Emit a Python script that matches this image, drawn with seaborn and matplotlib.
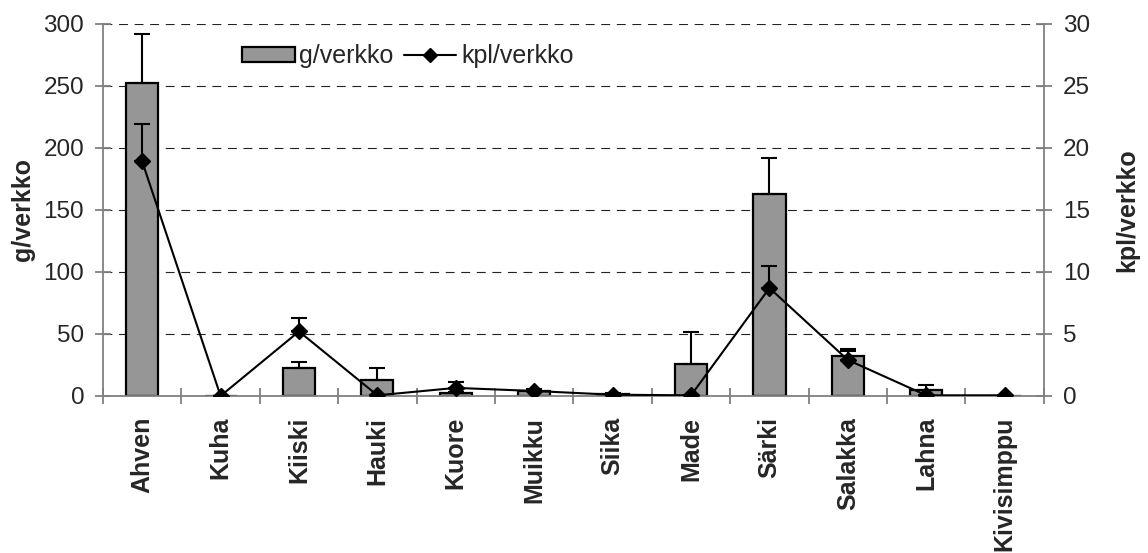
"""Saaliit verkkoa kohden: biomassa ja lukumäärä lajeittain."""

import matplotlib
matplotlib.use("Agg")
import matplotlib.pyplot as plt
import numpy as np
import pandas as pd
import seaborn as sns
from matplotlib.lines import Line2D
from matplotlib.patches import Patch

species = ["Ahven", "Kuha", "Kiiski", "Hauki", "Kuore", "Muikku",
           "Siika", "Made", "Särki", "Salakka", "Lahna", "Kivisimppu"]
g_per_net = [252, 0, 22.5, 13, 2.5, 4, 1.2, 26, 163, 32, 5, 0]
g_err = [40, 0, 5, 9.5, 0.8, 1.0, 0.5, 25.5, 29, 6, 3.5, 0]
kpl_per_net = [18.9, 0, 5.2, 0.05, 0.65, 0.4, 0.1, 0.05, 8.7, 2.9, 0.05, 0.05]
kpl_err = [3.0, 0, 1.1, 0, 0.5, 0.2, 0.1, 0, 1.8, 0.7, 0, 0]

GREY = "#969696"
AXIS = "#808080"


def main() -> None:
    sns.set_theme(style="white")
    plt.rcParams["font.family"] = ["Liberation Sans", "DejaVu Sans"]

    df = pd.DataFrame({"laji": species, "g": g_per_net, "kpl": kpl_per_net})
    x = np.arange(len(species))

    fig = plt.figure(figsize=(11.48, 5.53), dpi=100)
    ax = fig.add_axes([0.0897, 0.284, 0.8196, 0.673])

    sns.barplot(data=df, x="laji", y="g", color=GREY, width=0.41,
                edgecolor="black", linewidth=1.6, saturation=1, ax=ax, zorder=2)
    ax.errorbar(x, g_per_net, yerr=[np.zeros(len(x)), g_err], fmt="none",
                ecolor="black", elinewidth=1.5, capsize=5.8, capthick=1.5, zorder=3)

    ax.set_ylim(0, 300)
    ax.set_yticks(range(0, 301, 50))
    ax.set_xlim(-0.5, len(species) - 0.5)
    ax.yaxis.grid(True, linestyle=(0, (8, 6)), color="#222222", linewidth=0.8)
    ax.set_axisbelow(True)
    ax.set_xlabel("")
    ax.set_ylabel("g/verkko", fontsize=18, fontweight="bold", labelpad=6)

    ax2 = ax.twinx()
    ax2.errorbar(x, kpl_per_net, yerr=[np.zeros(len(x)), kpl_err], fmt="-D",
                 color="black", linewidth=1.5, markersize=8.5, elinewidth=1.5,
                 capsize=5.8, capthick=1.5, zorder=4)
    ax2.set_ylim(0, 30)
    ax2.set_yticks(range(0, 31, 5))
    ax2.set_ylabel("kpl/verkko", fontsize=18, fontweight="bold", labelpad=18)

    for a in (ax, ax2):
        a.spines["top"].set_visible(False)
        for side in ("left", "right", "bottom"):
            a.spines[side].set_color(AXIS)
            a.spines[side].set_linewidth(1.3)
        a.tick_params(axis="y", labelsize=17.5, length=11, width=1.3, color=AXIS,
                      direction="inout", pad=8)
    ax2.spines["left"].set_visible(False)
    ax.spines["right"].set_visible(False)
    ax2.spines["bottom"].set_visible(False)

    ax.set_xticks(x)
    ax.set_xticklabels(species, rotation=90, fontsize=18, fontweight="bold")
    ax.set_xticks(np.arange(-0.5, len(species), 1.0), minor=True)
    ax.tick_params(axis="x", which="major", length=0, pad=15)
    ax.tick_params(axis="x", which="minor", length=11, width=1.3, color=AXIS,
                   direction="inout", bottom=True)

    handles = [
        Patch(facecolor=GREY, edgecolor="black", linewidth=1.6, label="g/verkko"),
        Line2D([], [], color="black", marker="D", markersize=7, linewidth=1.5,
               label="kpl/verkko"),
    ]
    fig.legend(handles=handles, loc="center left",
               bbox_to_anchor=(242 / 1148, 1 - 56 / 553), ncol=2, frameon=False,
               fontsize=18, handlelength=2.1, handleheight=0.55,
               handletextpad=0.2, columnspacing=0.4, borderpad=0, borderaxespad=0)

    fig.savefig("out.png", dpi=100)
    plt.close(fig)


if __name__ == "__main__":
    main()
